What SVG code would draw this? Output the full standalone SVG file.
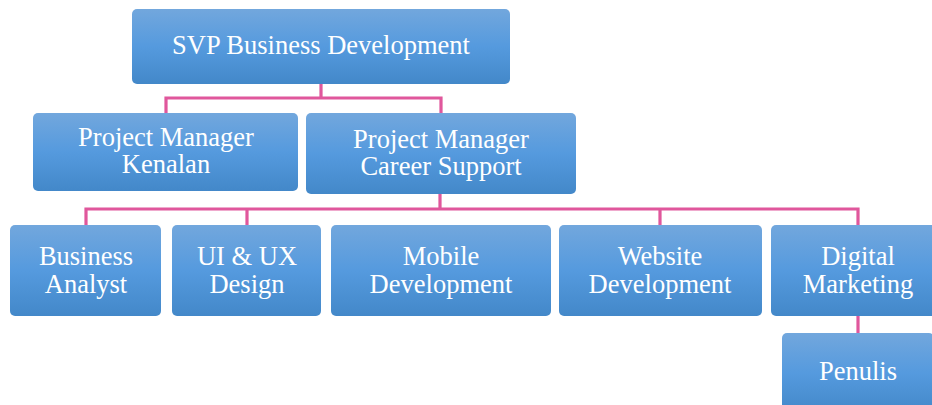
<svg xmlns="http://www.w3.org/2000/svg" width="932" height="405" viewBox="0 0 932 405">
<defs>
<linearGradient id="g" x1="0" y1="0" x2="0" y2="1">
<stop offset="0" stop-color="#72a7dd"/>
<stop offset="0.5" stop-color="#559ade"/>
<stop offset="1" stop-color="#4388c9"/>
</linearGradient>
<style>
.box{fill:url(#g);}
.t{font-family:"Liberation Serif","Times New Roman",serif;font-size:26.5px;fill:#ffffff;text-anchor:middle;}
.c{fill:none;stroke:#e0579c;stroke-width:3.2;}
</style>
</defs>
<g id="connectors">
<path class="c" d="M321,84 V98 M166,113 V98 H441 V113"/>
<path class="c" d="M440,194 V209 M86,225 V209 H858 V225 M247,209 V225 M660,209 V225"/>
<path class="c" d="M858,316 V333"/>
</g>
<g id="svp"><rect class="box" x="132" y="9" width="378" height="75" rx="5"/><text class="t" x="321" y="54">SVP Business Development</text></g>
<g id="pm-kenalan"><rect class="box" x="33" y="113" width="265" height="78" rx="5"/><text class="t" x="166" y="146">Project Manager</text><text class="t" x="166" y="173">Kenalan</text></g>
<g id="pm-career"><rect class="box" x="306" y="113" width="270" height="81" rx="5"/><text class="t" x="441" y="148">Project Manager</text><text class="t" x="441" y="175">Career Support</text></g>
<g id="business-analyst"><rect class="box" x="10" y="225" width="151" height="91" rx="5"/><text class="t" x="86" y="265">Business</text><text class="t" x="86" y="293">Analyst</text></g>
<g id="uiux"><rect class="box" x="172" y="225" width="149" height="91" rx="5"/><text class="t" x="247" y="265">UI &amp; UX</text><text class="t" x="247" y="293">Design</text></g>
<g id="mobile"><rect class="box" x="331" y="225" width="220" height="91" rx="5"/><text class="t" x="441" y="265">Mobile</text><text class="t" x="441" y="293">Development</text></g>
<g id="website"><rect class="box" x="559" y="225" width="203" height="91" rx="5"/><text class="t" x="660" y="265">Website</text><text class="t" x="660" y="293">Development</text></g>
<g id="digital"><rect class="box" x="771" y="225" width="172" height="91" rx="5"/><text class="t" x="858" y="265">Digital</text><text class="t" x="858" y="293">Marketing</text></g>
<g id="penulis"><rect class="box" x="782" y="333" width="152" height="80" rx="5"/><text class="t" x="858" y="380">Penulis</text></g>
</svg>
